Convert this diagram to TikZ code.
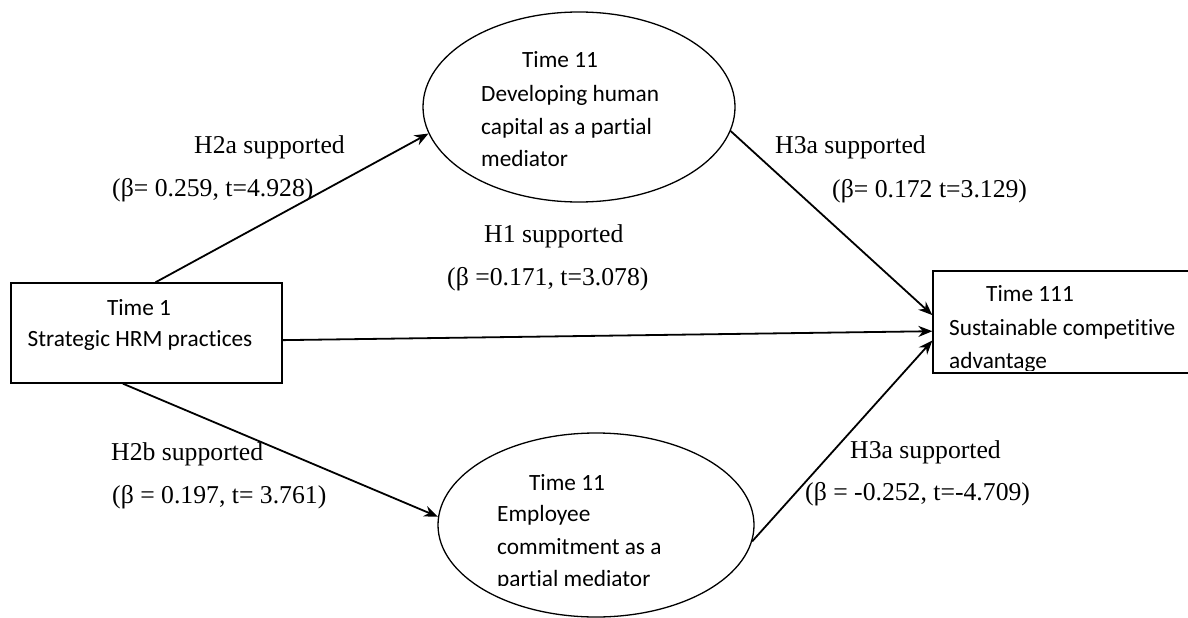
\documentclass[tikz,border=0pt]{standalone}
\usepackage{fontspec}
\setmainfont{Liberation Serif}
\newfontfamily\calfont[Ligatures=NoCommon]{Carlito}
\usetikzlibrary{shapes.geometric,arrows.meta}
\begin{document}
\begin{tikzpicture}[x=1pt,y=-1pt,
  shapeline/.style={draw=black,line width=1.3pt},
  boxnode/.style={shapeline,rectangle,inner sep=0pt},
  ellnode/.style={shapeline,ellipse,inner sep=0pt},
  conn/.style={line width=1.8pt,-{Stealth[length=14pt,width=11pt]}},
  intext/.style={font=\calfont\fontsize{23.3}{28}\selectfont,anchor=base west,inner sep=0pt},
  intextc/.style={intext,anchor=base},
  lab/.style={font=\fontsize{25.7}{30}\selectfont,anchor=base west,inner sep=0pt}]
\useasboundingbox (0,0) rectangle (1188,618);
\clip (0,0) rectangle (1188,618);
% shapes
\node[boxnode,minimum width=271pt,minimum height=100pt] (b1) at (146.5,333) {};
\node[boxnode,minimum width=262pt,minimum height=102pt] (b2) at (1064,322) {};
\node[ellnode,minimum width=312pt,minimum height=190pt] (e1) at (579,107) {};
\node[ellnode,minimum width=316pt,minimum height=184pt] (e2) at (596,525) {};
% texts in shapes
\node[intextc] (b1t1) at (139,315) {Time 1};
\node[intextc] (b1t2) at (140,346.7) {Strategic HRM practices};
\node[intextc] (e1t1) at (560,67.7) {Time 11};
\node[intext] (e1t2) at (481,101.7) {Developing human};
\node[intext] (e1t3) at (481,134) {capital as a partial};
\node[intext] (e1t4) at (481,166.7) {mediator};
\node[intextc] (b2t1) at (1030,301.7) {Time 111};
\node[intext] (b2t2) at (949,335) {Sustainable competitive};
\begin{scope}
  \clip (933,300) rectangle (1188,370);
  \node[intext] (b2t3) at (949,368) {advantage};
\end{scope}
\node[intextc] (e2t1) at (567,490) {Time 11};
\node[intext] (e2t2) at (497,521.7) {Employee};
\node[intext] (e2t3) at (497,554) {commitment as a};
\begin{scope}
  \clip (450,560) rectangle (760,585.5);
  \node[intext] (e2t4) at (497,586.7) {partial mediator};
\end{scope}
% connectors
\draw[conn] (b1.80) -- (e1.190);
\draw[conn] (b1.245) -- (e2.177);
\draw[conn] (b1.357) -- (b2.184);
\draw[conn] (e1.351) -- (b2.177);
\draw[conn] (e2.354) -- (b2.188);
% labels
\node[lab] (l1a) at (194,153) {H2a supported};
\node[lab] (l1b) at (112,196.7) {(β= 0.259, t=4.928)};
\node[lab] (l2a) at (484,242) {H1 supported};
\node[lab] (l2b) at (447,285) {(β =0.171, t=3.078)};
\node[lab] (l3a) at (775,153) {H3a supported};
\node[lab] (l3b) at (832,197) {(β= 0.172 t=3.129)};
\node[lab] (l4a) at (111,460) {H2b supported};
\node[lab] (l4b) at (112,503) {(β = 0.197, t= 3.761)};
\node[lab] (l5a) at (850,458) {H3a supported};
\node[lab] (l5b) at (805,500) {(β = -0.252, t=-4.709)};
\end{tikzpicture}
\end{document}
